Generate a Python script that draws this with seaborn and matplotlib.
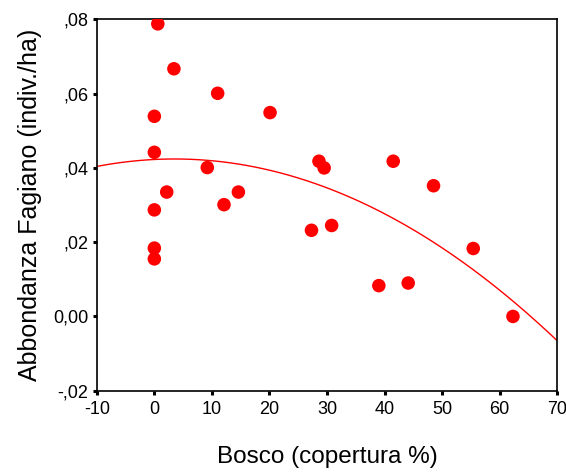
import numpy as np
import pandas as pd
import matplotlib
matplotlib.use("Agg")
import matplotlib.pyplot as plt
import seaborn as sns
from matplotlib.ticker import FixedLocator, FuncFormatter

# Woodland cover (%) and pheasant abundance (individuals/ha) per site
bosco = [0.6, 3.4, 0.0, 11.0, 20.1, 0.0, 9.2, 2.15, 14.6, 12.1, 0.0, 0.0, 0.0,
         28.6, 29.5, 41.5, 48.5, 27.3, 30.8, 55.4, 39.0, 44.1, 62.3]
fagiano = [0.0788, 0.0667, 0.0539, 0.0601, 0.0549, 0.0442, 0.0401, 0.0335,
           0.0335, 0.0301, 0.0287, 0.0184, 0.0155, 0.0418, 0.0400, 0.0418,
           0.0352, 0.0232, 0.0245, 0.0183, 0.0083, 0.0090, 0.0000]

x_ticks = [-10, 0, 10, 20, 30, 40, 50, 60, 70]
y_ticks = [-0.02, 0.00, 0.02, 0.04, 0.06, 0.08]

df = pd.DataFrame({"bosco": bosco, "fagiano": fagiano})

sns.set_theme(style="white")
plt.rcParams["font.family"] = ["Liberation Sans", "DejaVu Sans"]

fig = plt.figure(figsize=(5.66, 4.73), dpi=100)
ax = fig.add_axes([0.171, 0.174, 0.8136, 0.785])

ax.set_xlim(-10, 70)
ax.set_ylim(-0.02, 0.08)

# quadratic fit line across the full x range
sns.regplot(data=df, x="bosco", y="fagiano", order=2, ci=None, scatter=False,
            truncate=False, ax=ax, line_kws=dict(color="#ff0000", lw=1.0))
sns.scatterplot(data=df, x="bosco", y="fagiano", ax=ax, color="#ff0000",
                s=95, edgecolor="none", linewidth=0, zorder=3)

ax.set_xlim(-10, 70)
ax.set_ylim(-0.02, 0.08)
ax.xaxis.set_major_locator(FixedLocator(x_ticks))
ax.yaxis.set_major_locator(FixedLocator(y_ticks))


def fmt_y(v, pos):
    if abs(v) < 1e-9:
        return "0,00"
    s = f"{v:.2f}".replace(".", ",")
    return s.replace("0,", ",", 1)


ax.yaxis.set_major_formatter(FuncFormatter(fmt_y))
ax.xaxis.set_major_formatter(FuncFormatter(lambda v, p: f"{int(round(v))}"))

for sp in ax.spines.values():
    sp.set_visible(True)
    sp.set_color("black")
    sp.set_linewidth(1.2)

ax.tick_params(axis="both", which="major", direction="out", length=3, width=2.2,
               color="black", labelsize=13, labelcolor="black", pad=3,
               bottom=True, left=True, top=False, right=False)
ax.tick_params(axis="x", pad=4.5)

ax.set_xlabel("Bosco (copertura %)", fontsize=17.5, labelpad=20, color="black")
ax.set_ylabel("Abbondanza Fagiano (indiv./ha)", fontsize=18, labelpad=8, color="black")
ax.grid(False)

fig.savefig("out.png", dpi=100, facecolor="white")
